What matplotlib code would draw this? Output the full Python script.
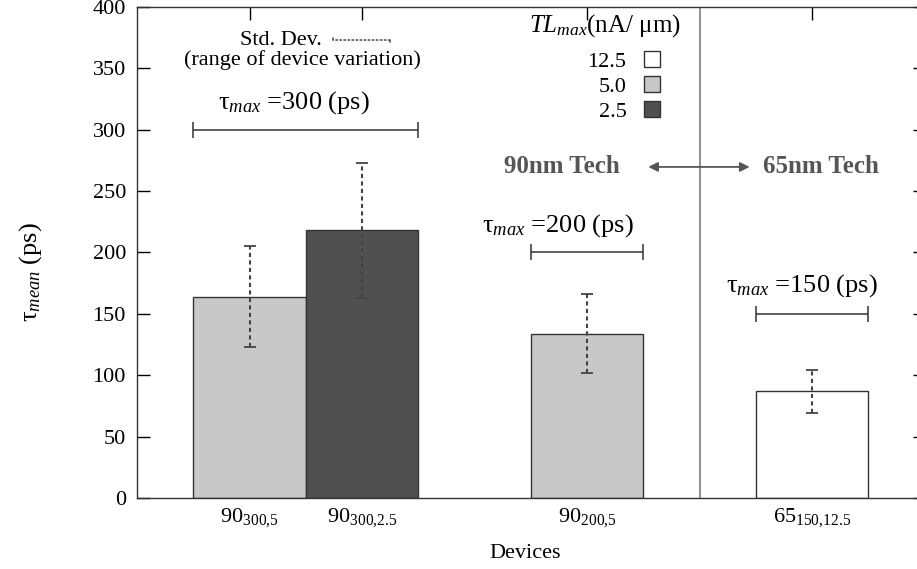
import matplotlib
matplotlib.use('Agg')
import matplotlib.pyplot as plt
from matplotlib.patches import Patch

plt.rcParams['font.family'] = ['Liberation Serif', 'DejaVu Serif']
plt.rcParams['mathtext.fontset'] = 'custom'
plt.rcParams['mathtext.rm'] = 'Liberation Serif'
plt.rcParams['mathtext.it'] = 'Liberation Serif:italic'
plt.rcParams['mathtext.bf'] = 'Liberation Serif:bold'

# Dados
devices = [r'90$_{300{,}5}$', r'90$_{300{,}2.5}$', r'90$_{200{,}5}$',
           r'65$_{150{,}12.5}$']
positions = [1, 2, 4, 6]
tau_mean = [164, 218, 134, 87]
tau_std = [41, 55, 32, 17.5]
leakage = ['5.0', '2.5', '5.0', '12.5']

leak_levels = ['12.5', '5.0', '2.5']
leak_colors = {'12.5': 'white', '5.0': '#c8c8c8', '2.5': '#505050'}

tau_max = [300, 200, 150]
tau_max_start = [0.5, 3.5, 5.5]
tau_max_end = [2.5, 4.5, 6.5]
tau_max_text_x = [1.39, 3.74, 5.91]
tau_max_text_y = [321.8, 221.6, 172.7]

# Figura
fig = plt.figure(figsize=(9.17, 5.69), dpi=100)
ax = fig.add_axes([0.1494, 0.1248, 0.8588, 0.8629])

ax.bar(positions, tau_mean, width=1.0,
       color=[leak_colors[l] for l in leakage],
       edgecolor='#333333', linewidth=1.0, zorder=2)

eb = ax.errorbar(positions, tau_mean, yerr=tau_std, fmt='none',
                 ecolor='#444444', elinewidth=1.5, capsize=4.5,
                 capthick=1.3, zorder=3)
eb[2][0].set_linestyle((0, (2, 1.6)))

# Linhas de tau_max
for t, a, b, tx, ty in zip(tau_max, tau_max_start, tau_max_end,
                           tau_max_text_x, tau_max_text_y):
    ax.errorbar((a + b) / 2, t, xerr=(b - a) / 2, fmt='none',
                ecolor='#333333', elinewidth=1.1, capsize=5.5, capthick=1.1)
    ax.text(tx, ty, 'τ$_{max}$ =%d (ps)' % t, ha='center', va='center',
            fontsize=19)

# Separação das tecnologias
ax.axvline(5, color='#888888', linewidth=1.3, zorder=1)
ax.annotate('', xy=(4.52, 269.7), xytext=(5.47, 269.7),
            arrowprops=dict(arrowstyle='<|-|>', color='#555555', lw=1.3,
                            mutation_scale=14))
ax.text(3.778, 269.7, '90nm Tech', ha='center', va='center', fontsize=18,
        fontweight='bold', color='#555555')
ax.text(6.08, 269.7, '65nm Tech', ha='center', va='center', fontsize=18,
        fontweight='bold', color='#555555')

# Amostra do desvio padrão
ax.text(1.644, 373.1, 'Std. Dev.', ha='right', va='center', fontsize=16)
ax.annotate('', xy=(1.742, 373.1), xytext=(2.249, 373.1),
            arrowprops=dict(arrowstyle='|-|, widthA=0.15, widthB=0.15',
                            color='#444444', lw=1.1, linestyle=':',
                            shrinkA=0, shrinkB=0))
ax.text(1.467, 356.8, '(range of device variation)', ha='center',
        va='center', fontsize=16)

# Legenda
ax.text(4.16, 384.5, r'$TL_{max}$(nA/ μm)', ha='center', va='center',
        fontsize=18)
handles = [Patch(facecolor=leak_colors[l], edgecolor='#333333', label=l)
           for l in leak_levels]
leg = ax.legend(handles=handles, loc='upper right',
                bbox_to_anchor=(0.664, 0.91), frameon=False,
                markerfirst=False, fontsize=16, labelspacing=0.2,
                handlelength=0.7, handleheight=0.7, handletextpad=0.8,
                borderpad=0, borderaxespad=0)

# Eixos
ax.set_xlim(0, 7)
ax.set_ylim(0, 400)
ax.set_yticks(range(0, 401, 50))
ax.set_xticks(positions, devices)
ax.tick_params(axis='y', direction='in', length=9, width=1, right=True,
               labelsize=16, pad=8)
ax.tick_params(axis='x', direction='in', length=9, width=1, top=True,
               bottom=False, labelsize=16, pad=6)
for s in ax.spines.values():
    s.set_linewidth(1.0)
    s.set_color('#333333')

ax.set_ylabel('τ$_{mean}$ (ps)', fontsize=19)
ax.yaxis.set_label_coords(-0.118, 0.46)
ax.set_xlabel('Devices', fontsize=16)
ax.xaxis.set_label_coords(0.493, -0.093)

fig.savefig('out.png', dpi=100)
